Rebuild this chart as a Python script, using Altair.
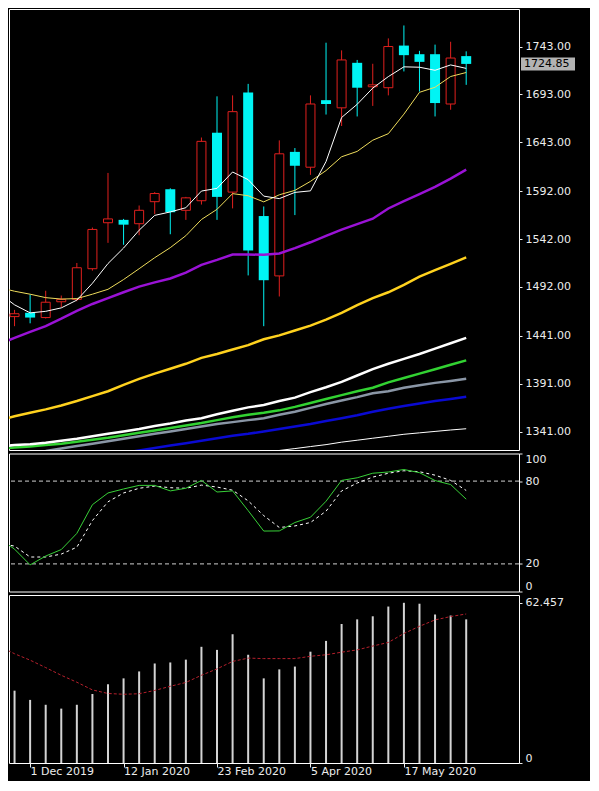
import altair as alt
import pandas as pd

# ---------------- data (weekly bars, index 0 = week of 24 Nov 2019) ----------------
tick_bars = [1, 7, 13, 19, 25]
tick_labels = ["1 Dec 2019", "12 Jan 2020", "23 Feb 2020", "5 Apr 2020", "17 May 2020"]
price_ticks = [1341, 1391, 1441, 1492, 1542, 1592, 1643, 1693, 1743]
last_price = 1724.85

opens = [1461, 1465, 1460, 1476.5, 1479, 1511, 1559, 1562, 1558, 1581, 1594, 1572, 1582, 1653, 1591,
         1695, 1566, 1503.5, 1633, 1617, 1687, 1679, 1726, 1701, 1700, 1744, 1735, 1735, 1683, 1733]
highs = [1468, 1484, 1488, 1483, 1517, 1554, 1611, 1563, 1577, 1591, 1595, 1586, 1648, 1691, 1692,
         1704, 1576, 1645, 1637, 1692, 1747, 1739, 1729, 1725, 1751.5, 1765, 1738.5, 1745, 1748, 1738]
lows = [1451, 1454, 1459, 1471, 1477, 1509, 1538, 1536, 1546, 1568, 1547, 1562, 1578, 1562, 1574,
        1504, 1451, 1482, 1567, 1609, 1672, 1660, 1670, 1681, 1692, 1717, 1696, 1670, 1677, 1703]
closes = [1464, 1460, 1476, 1479, 1512, 1552, 1563, 1557, 1572, 1589.5, 1570, 1585, 1644, 1586, 1675,
          1530, 1499, 1631, 1618.5, 1683, 1683, 1729, 1700, 1703, 1743, 1734, 1727, 1684, 1731, 1724.85]

# moving averages, index -1 .. 29
ma_index = list(range(-1, 30))
ma_fast_white = [1485.4, 1473.3, 1464.9, 1466.5, 1470.1, 1478.2, 1495.8, 1516.4, 1532.6, 1551.2, 1566.7,
                 1570.3, 1574.7, 1592.1, 1594.9, 1612.0, 1604.0, 1586.8, 1584.2, 1590.7, 1592.3, 1622.9,
                 1668.9, 1682.7, 1699.6, 1711.6, 1721.8, 1721.4, 1718.2, 1723.8, 1720.2]
ma_fast_yellow = [1491.5, 1487.5, 1484.4, 1480.8, 1479.3, 1479.8, 1484.4, 1489.5, 1499.7, 1511.0, 1522.5,
                  1533.0, 1545.5, 1562.4, 1573.0, 1589.4, 1587.2, 1580.8, 1588.2, 1592.8, 1602.2, 1613.5,
                  1627.9, 1633.5, 1645.2, 1652.0, 1672.4, 1695.2, 1700.5, 1711.7, 1715.9]
ma_purple = [1432.2, 1438.8, 1445.0, 1451.1, 1458.8, 1467.0, 1474.2, 1480.3, 1486.4, 1492.3, 1496.7,
             1500.8, 1506.9, 1515.1, 1520.2, 1525.8, 1525.8, 1525.6, 1526.9, 1532.5, 1538.6, 1545.3,
             1551.9, 1557.6, 1563.2, 1573.9, 1581.6, 1588.8, 1596.4, 1605.1, 1614.4]
ma_gold = [1352.4, 1357.0, 1360.6, 1364.1, 1368.2, 1372.8, 1378.0, 1383.1, 1389.7, 1395.9, 1401.5,
           1406.6, 1411.7, 1417.9, 1422.0, 1426.6, 1431.2, 1437.3, 1441.4, 1446.5, 1451.6, 1457.8,
           1464.9, 1473.1, 1480.3, 1486.4, 1494.1, 1502.8, 1509.5, 1516.1, 1522.8]
ma_white = [1325.3, 1326.8, 1327.8, 1329.3, 1331.4, 1333.4, 1336.0, 1338.6, 1341.1, 1343.7, 1346.7,
            1349.3, 1352.4, 1354.9, 1359.0, 1362.6, 1366.2, 1368.7, 1372.8, 1376.4, 1382.1, 1387.2,
            1392.8, 1399.5, 1406.1, 1411.7, 1416.8, 1422.0, 1427.6, 1433.2, 1438.8]
ma_green = [1322.7, 1324.2, 1325.3, 1326.8, 1328.3, 1330.4, 1332.4, 1334.5, 1337.0, 1339.6, 1342.1,
            1344.7, 1347.3, 1349.8, 1352.9, 1356.0, 1358.5, 1360.6, 1363.1, 1366.7, 1370.8, 1374.9,
            1379.0, 1383.1, 1386.7, 1392.3, 1396.9, 1401.5, 1406.1, 1410.7, 1415.3]
ma_gray = [1313.5, 1316.0, 1318.6, 1320.7, 1323.2, 1325.8, 1328.3, 1330.9, 1333.4, 1336.0, 1338.6,
           1341.1, 1343.7, 1346.2, 1348.8, 1350.8, 1352.9, 1354.9, 1358.5, 1361.6, 1365.7, 1369.8,
           1373.3, 1376.9, 1381.0, 1383.1, 1386.7, 1389.2, 1391.8, 1393.8, 1396.1]
ma_blue = [1298.1, 1300.7, 1303.2, 1305.8, 1308.4, 1310.9, 1313.5, 1316.0, 1318.6, 1321.2, 1323.7,
           1326.3, 1328.8, 1331.4, 1333.9, 1336.5, 1338.6, 1341.1, 1343.7, 1346.2, 1348.8, 1351.9,
           1354.9, 1358.0, 1361.6, 1364.7, 1367.7, 1370.3, 1372.8, 1374.9, 1377.2]
ma_slow_thin = [None] * 16 + [1317.1, 1319.1, 1321.2, 1323.2, 1325.3, 1327.3, 1329.9, 1331.9, 1334.0,
                               1336.0, 1338.1, 1339.6, 1341.1, 1342.6, 1343.9]

stoch_main = [38.6, 30.7, 19.3, 25.7, 30.4, 42.1, 62.9, 71.4, 74.3, 76.9, 76.9, 72.9, 74.8, 80.5, 72.1,
              72.9, 58.6, 43.8, 43.9, 50.0, 53.8, 65.4, 80.5, 82.4, 85.7, 86.6, 88.4, 86.1, 80.4, 77.5, 66.9]
stoch_signal = [35.0, 32.9, 25.0, 25.0, 27.1, 32.1, 51.4, 65.0, 71.4, 74.8, 76.4, 75.2, 74.8, 77.1, 75.7,
                73.4, 65.7, 55.0, 46.4, 47.5, 50.0, 58.2, 72.9, 78.6, 82.9, 85.7, 87.5, 86.8, 84.3, 80.5, 73.2]
stoch_levels = [20, 80]

volume = [28.2, 24.6, 22.7, 21.2, 22.7, 26.9, 30.7, 33.0, 35.7, 38.8, 39.2, 40.3, 45.3, 44.1, 50.2,
          42.2, 33.0, 36.5, 37.6, 43.4, 47.6, 54.2, 56.0, 57.2, 61.0, 62.457, 62.1, 57.9, 57.5, 56.0]
volume_ma = [45.6, 42.6, 40.1, 37.2, 34.2, 31.5, 28.5, 27.1, 26.8, 27.0, 28.3, 29.9, 31.4, 34.2, 36.7,
             39.6, 40.9, 40.7, 40.7, 40.7, 41.6, 42.2, 43.2, 44.1, 45.6, 47.0, 50.5, 53.3, 55.8, 57.1, 58.1]

# ---------------- tables ----------------
bars = list(range(len(opens)))
candles = pd.DataFrame({"i": bars, "open": opens, "high": highs, "low": lows, "close": closes})
ma_df = pd.DataFrame({"i": ma_index, "fw": ma_fast_white, "fy": ma_fast_yellow, "pu": ma_purple,
                      "go": ma_gold, "wh": ma_white, "gr": ma_green, "ga": ma_gray, "bl": ma_blue,
                      "st": ma_slow_thin})
sto_df = pd.DataFrame({"i": ma_index, "k": stoch_main, "d": stoch_signal})
lvl_df = pd.DataFrame({"level": stoch_levels})
vol_df = pd.DataFrame({"i": bars, "v": volume})
vma_df = pd.DataFrame({"i": ma_index, "m": volume_ma})
tag_df = pd.DataFrame({"p": [last_price], "t": [f"{last_price:.2f}"]})

# ---------------- styling ----------------
W = 510
H_MAIN, H_STO, H_VOL = 441, 138, 168
XDOM = [-0.356, 32.39]
RED = "#e0201e"
CYAN = "#00f4f4"
FONT = "DejaVu Sans"
LBL = "#ececec"


def xscale():
    return alt.Scale(domain=XDOM, nice=False, zero=False, padding=0)


X = alt.X("i:Q", scale=xscale(), axis=None)

main_scale = alt.Scale(domain=[1321.7, 1782.2], nice=False, zero=False)
main_axis = alt.Axis(values=price_ticks, format=".2f", orient="right", title=None, tickSize=3,
                     labelPadding=3, domain=False, grid=False)


def ym(field):
    return alt.Y(f"{field}:Q", scale=main_scale, axis=main_axis)


base = alt.Chart(candles)
up = alt.datum.close >= alt.datum.open
down = alt.datum.close < alt.datum.open

wick_up = base.transform_filter(up).mark_rule(color=RED, strokeWidth=1).encode(
    x=X, y=ym("low"), y2="high:Q")
wick_dn = base.transform_filter(down).mark_rule(color=CYAN, strokeWidth=1).encode(
    x=X, y=ym("low"), y2="high:Q")
body_up = base.transform_filter(up).mark_bar(size=9, fill="black", stroke=RED, strokeWidth=1).encode(
    x=X, y=ym("open"), y2="close:Q")
body_dn = base.transform_filter(down).mark_bar(size=10, color=CYAN).encode(
    x=X, y=ym("open"), y2="close:Q")

line_styles = [
    ("st", "#ffffff", 1.0),
    ("bl", "#0a0ad2", 2.5),
    ("ga", "#8a96a6", 2.5),
    ("gr", "#32d232", 2.5),
    ("wh", "#ffffff", 2.5),
    ("go", "#ffd21e", 2.5),
    ("pu", "#9a12d6", 2.5),
    ("fy", "#eedc5c", 1.0),
    ("fw", "#ffffff", 1.0),
]
ma_layers = [
    alt.Chart(ma_df).mark_line(color=c, strokeWidth=w, clip=True).encode(x=X, y=ym(f))
    for f, c, w in line_styles
]

tag_box = alt.Chart(tag_df).mark_tick(orient="horizontal", size=54, thickness=13, color="white").encode(
    x=alt.value(539), y=ym("p"))
tag_txt = alt.Chart(tag_df).mark_text(align="left", baseline="middle", font=FONT, fontSize=11,
                                      color="black").encode(x=alt.value(515), y=ym("p"), text="t:N")

main = alt.layer(wick_up, wick_dn, body_up, body_dn, *ma_layers, tag_box, tag_txt).properties(
    width=W, height=H_MAIN)

# ---------------- stochastic ----------------
sto_scale = alt.Scale(domain=[0, 100], nice=False, zero=False)
sto_axis = alt.Axis(values=[0, 20, 80, 100], orient="right", title=None, tickSize=3, labelPadding=3,
                    domain=False, grid=False, labelFlush=1)
sto_lvl = alt.Chart(lvl_df).mark_rule(color="#d0d0d0", strokeWidth=1, strokeDash=[4, 3]).encode(
    y=alt.Y("level:Q", scale=sto_scale, axis=sto_axis))
sto_d = alt.Chart(sto_df).mark_line(color="#ffffff", strokeWidth=1, strokeDash=[3, 3], clip=True).encode(
    x=X, y=alt.Y("d:Q", scale=sto_scale, axis=sto_axis))
sto_k = alt.Chart(sto_df).mark_line(color="#38d038", strokeWidth=1, clip=True).encode(
    x=X, y=alt.Y("k:Q", scale=sto_scale, axis=sto_axis))
sto = alt.layer(sto_lvl, sto_d, sto_k).properties(width=W, height=H_STO)

# ---------------- volume ----------------
label_expr = " : ".join(f"datum.value == {b} ? '{t}'" for b, t in zip(tick_bars, tick_labels)) + " : ''"
X_bottom = alt.X("i:Q", scale=xscale(),
                 axis=alt.Axis(values=tick_bars, labelExpr=label_expr, labelAlign="left", tickSize=4,
                               labelPadding=-2, domain=False, grid=False, title=None, orient="bottom"))
vol_scale = alt.Scale(domain=[0, 65.5], nice=False, zero=True)
vol_axis = alt.Axis(values=[0, 62.457], format=".3~f", orient="right", title=None, tickSize=3,
                    labelPadding=3, domain=False, grid=False, labelFlush=1)
vol_bars = alt.Chart(vol_df).mark_bar(size=2, color="#d4d4d4").encode(
    x=X_bottom, y=alt.Y("v:Q", scale=vol_scale, axis=vol_axis))
vol_ma = alt.Chart(vma_df).mark_line(color="#b4202c", strokeWidth=1, strokeDash=[3, 2], clip=True).encode(
    x=X_bottom, y=alt.Y("m:Q", scale=vol_scale, axis=vol_axis))
vol = alt.layer(vol_bars, vol_ma).properties(width=W, height=H_VOL)

chart = (
    alt.vconcat(main, sto, vol, spacing=1.5)
    .properties(background="black", padding={"left": 0, "top": 0, "right": 14, "bottom": 4})
    .configure_view(stroke="white", strokeWidth=1, fill="black")
    .configure_axis(labelFont=FONT, labelFontSize=11, labelColor=LBL, tickColor=LBL, grid=False,
                    domain=False)
)

chart.save("out.html", embed_options={"renderer": "svg", "actions": False})
